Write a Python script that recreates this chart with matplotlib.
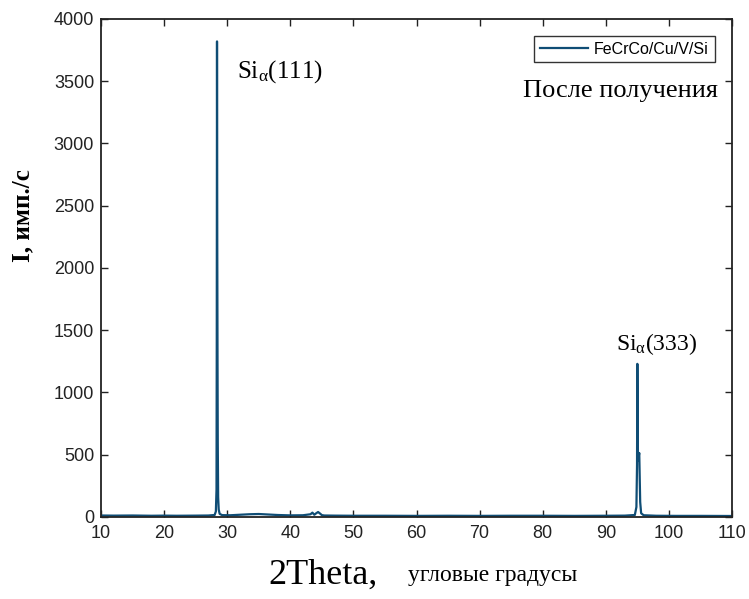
import numpy as np
import matplotlib
matplotlib.use('Agg')
import matplotlib.pyplot as plt

## XRD pattern ##

two_theta = [10.0, 12.0, 15.0, 18.0, 20.0, 22.0, 25.0, 27.0, 28.0, 28.2, 28.3,
             28.34, 28.38, 28.42, 28.46, 28.5, 28.56, 28.65, 28.8, 29.2, 30.5,
             32.0, 33.5, 35.0, 36.5, 38.0, 40.0, 42.0, 43.2, 43.5, 43.8, 44.1,
             44.4, 44.7, 45.0, 45.4, 47.0, 50.0, 55.0, 60.0, 65.0, 70.0, 75.0,
             80.0, 85.0, 90.0, 93.0, 94.6, 94.85, 94.95, 95.0, 95.05, 95.1,
             95.2, 95.3, 95.38, 95.45, 95.6, 96.0, 98.0, 101.0, 105.0, 110.0]
intensity = [12, 11, 12, 10, 11, 10, 11, 12, 16, 45, 220,
             1400, 3820, 2200, 1300, 600, 160, 60, 25, 15, 14,
             18, 22, 24, 20, 16, 13, 14, 22, 35, 18, 30,
             40, 28, 15, 12, 11, 10, 10, 9, 10, 9, 10,
             10, 9, 10, 11, 16, 80, 420, 1230, 800, 450,
             480, 514, 300, 120, 30, 14, 10, 9, 9, 8]

x = np.array(two_theta)
I = np.array(intensity)

## Fonts ##
plt.rcParams['font.family'] = ['Liberation Sans', 'DejaVu Sans']
plt.rcParams['mathtext.fontset'] = 'custom'
plt.rcParams['mathtext.rm'] = 'Liberation Serif'
plt.rcParams['mathtext.it'] = 'Liberation Serif'

fig = plt.figure(figsize=(7.49, 5.99), dpi=100)
ax = fig.add_axes([0.1349, 0.1369, 0.8424, 0.8314])

ax.plot(x, I, color='#0f4d75', lw=1.6, label='FeCrCo/Cu/V/Si')

ax.set_xlim(10, 110)
ax.set_ylim(0, 4000)
ax.set_xticks(np.arange(10, 111, 10))
ax.set_yticks(np.arange(0, 4001, 500))
ax.tick_params(direction='in', top=True, right=True, length=5, width=1,
               labelsize=13, colors='#222222')
ax.tick_params(axis='x', pad=6)
ax.tick_params(axis='y', pad=5)
for s in ax.spines.values():
    s.set_linewidth(1.3)
    s.set_color('#222222')

leg = ax.legend(loc='upper right', bbox_to_anchor=(0.985, 0.982), fontsize=11.5,
                frameon=True, fancybox=False, edgecolor='black',
                handlelength=3.0, borderpad=0.35, handletextpad=0.4)
leg.get_frame().set_linewidth(1.0)

serif = ['Liberation Serif', 'DejaVu Serif']
ax.text(31.5, 3574, r'$\mathrm{Si}_{\mathrm{α}}\mathrm{(111)}$', fontsize=18,
        va='center', ha='left')
ax.text(91.6, 1390, r'$\mathrm{Si}_{\mathrm{α}}\mathrm{(333)}$', fontsize=17,
        va='center', ha='left')
ax.text(0.978, 0.855, 'После получения', transform=ax.transAxes, fontsize=19,
        family=serif, ha='right', va='center')

fig.text(0.030, 0.640, 'I, имп./с', rotation=90, fontsize=18, family=serif,
         fontweight='bold', ha='center', va='center')
fig.text(0.358, 0.040, '2Theta,', fontsize=26, family=serif, ha='left',
         va='center')
fig.text(0.545, 0.040, 'угловые градусы', fontsize=17, family=serif,
         ha='left', va='center')

fig.savefig('out.png', dpi=100)
